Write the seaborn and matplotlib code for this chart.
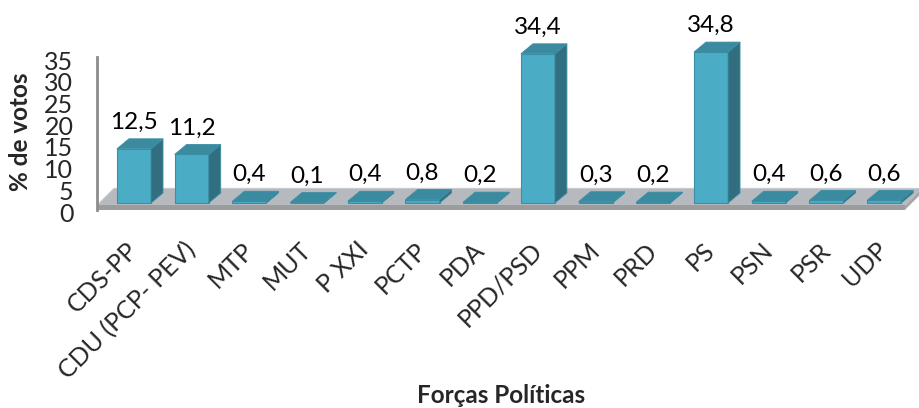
import matplotlib
matplotlib.use("Agg")
from matplotlib import pyplot as plt
from matplotlib.patches import Polygon
from matplotlib.transforms import ScaledTranslation
import seaborn as sns
import pandas as pd

# data
parties = ['CDS-PP', 'CDU (PCP- PEV)', 'MTP', 'MUT', 'P XXI', 'PCTP', 'PDA',
           'PPD/PSD', 'PPM', 'PRD', 'PS', 'PSN', 'PSR', 'UDP']
votes = [12.5, 11.2, 0.4, 0.1, 0.4, 0.8, 0.2, 34.4, 0.3, 0.2, 34.8, 0.4, 0.6, 0.6]
yticks = [0, 5, 10, 15, 20, 25, 30, 35]

FRONT = '#4BACC6'
SIDE = '#316F80'
TOP = '#3A8AA0'
EDGE = '#3C8EA4'
FLOOR_TOP = '#B6BABE'
FLOOR_FRONT = '#9C9C9C'

sns.set_style('white')
plt.rcParams['font.family'] = ['Lato', 'DejaVu Sans']

df = pd.DataFrame({'Partido': parties, 'Votos': votes})

fig = plt.figure(figsize=(9.2, 4.08), dpi=100)
ax = fig.add_axes([97 / 920, (408 - 210) / 408, 823 / 920, 190 / 408])
sns.barplot(data=df, x='Partido', y='Votos', color=FRONT, saturation=1,
            width=0.59, edgecolor=EDGE, linewidth=0.8, ax=ax)
ax.set_xlim(-0.641, 13.622)
ax.set_ylim(-1.61, 42.2)

# pixel -> data helpers for the fake 3d depth
x_per_px = (ax.get_xlim()[1] - ax.get_xlim()[0]) / 823
y_per_px = (ax.get_ylim()[1] - ax.get_ylim()[0]) / 190
ddx, ddy = 12 * x_per_px, 10 * y_per_px

# floor
fx0, fx1 = ax.get_xlim()[0], 13.36
fy_top, fy_bot = -0.55, ax.get_ylim()[0]
fdx, fdy = 17 * x_per_px, 17 * y_per_px
ax.add_patch(Polygon([(fx0, fy_top), (fx1, fy_top), (fx1 + fdx, fy_top + fdy),
                      (fx0 + fdx, fy_top + fdy)], closed=True,
                     facecolor=FLOOR_TOP, edgecolor='#C8CBCE', lw=0.8, zorder=0.5))
ax.add_patch(Polygon([(fx0, fy_bot), (fx1, fy_bot), (fx1, fy_top), (fx0, fy_top)],
                     closed=True, facecolor=FLOOR_FRONT, edgecolor='none', zorder=0.5))
ax.add_patch(Polygon([(fx1, fy_bot), (fx1 + fdx, fy_bot + fdy), (fx1 + fdx, fy_top + fdy),
                      (fx1, fy_top)], closed=True, facecolor='#A8A8A8',
                     edgecolor='none', zorder=0.5))

for p, v in zip(ax.patches, votes):
    p.set_zorder(2)
    x0 = p.get_x()
    x1 = x0 + p.get_width()
    h = p.get_height()
    ax.add_patch(Polygon([(x1, 0), (x1 + ddx, ddy), (x1 + ddx, h + ddy), (x1, h)],
                         closed=True, facecolor=SIDE, edgecolor=EDGE, lw=0.6, zorder=2))
    ax.add_patch(Polygon([(x0, h), (x1, h), (x1 + ddx, h + ddy), (x0 + ddx, h + ddy)],
                         closed=True, facecolor=TOP, edgecolor=EDGE, lw=0.6, zorder=2))
    ax.text(x0 + p.get_width() / 2, h + 20 * y_per_px, f'{v:.1f}'.replace('.', ','),
            ha='center', va='baseline', fontsize=17.5, color='black')

for s in ['top', 'right', 'bottom']:
    ax.spines[s].set_visible(False)
ax.spines['left'].set_color('#8C8C8C')
ax.spines['left'].set_linewidth(2)
ax.spines['left'].set_bounds(ax.get_ylim()[0], 33.6)

ax.set_yticks(yticks)
ax.set_yticklabels([str(t) for t in yticks], fontsize=18)
ax.tick_params(axis='y', length=0, pad=17)
for lab in ax.get_yticklabels():
    lab.set_transform(lab.get_transform() + ScaledTranslation(0, -0.09, fig.dpi_scale_trans))

ax.set_xticks(range(len(parties)))
ax.set_xticklabels(parties, rotation=45, ha='right', va='center',
                   rotation_mode='anchor', fontsize=18)
ax.tick_params(axis='x', length=0, pad=26)

ax.set_ylabel('% de votos', fontsize=17.5, fontweight='bold')
ax.yaxis.set_label_coords((21 - 97) / 823, (210 - 132) / 190)
ax.yaxis.label.set_va('center')
ax.set_xlabel('Forças Políticas', fontsize=17.5, fontweight='bold')
ax.xaxis.set_label_coords((501 - 97) / 823, (210 - 403) / 190)
ax.xaxis.label.set_va('baseline')

fig.savefig('out.png', dpi=100)
